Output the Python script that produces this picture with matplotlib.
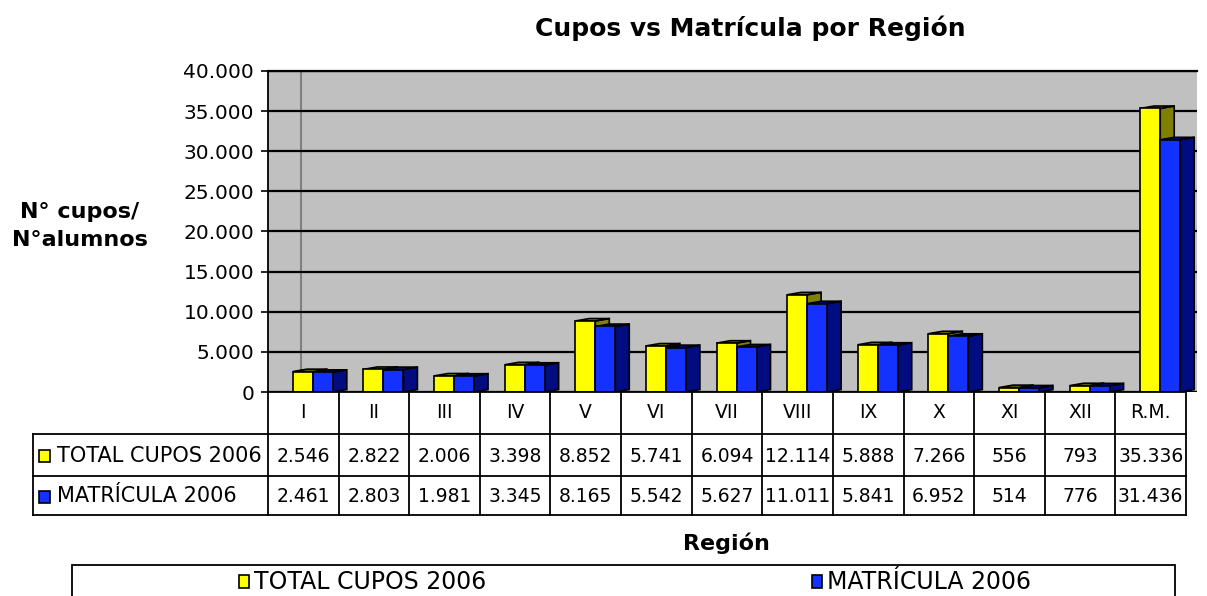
import matplotlib
matplotlib.use('Agg')
import matplotlib.pyplot as plt
from matplotlib.patches import Rectangle

regiones = ['I', 'II', 'III', 'IV', 'V', 'VI', 'VII', 'VIII', 'IX', 'X', 'XI', 'XII', 'R.M.']
cupos = [2546, 2822, 2006, 3398, 8852, 5741, 6094, 12114, 5888, 7266, 556, 793, 35336]
matricula = [2461, 2803, 1981, 3345, 8165, 5542, 5627, 11011, 5841, 6952, 514, 776, 31436]
series = ['TOTAL CUPOS 2006', 'MATRÍCULA 2006']
yticks = [0, 5000, 10000, 15000, 20000, 25000, 30000, 35000, 40000]

front = ['#FFFF00', '#1432FF']
side = ['#808000', '#000C80']

plt.rcParams['font.family'] = ['DejaVu Sans']

W, H = 1207, 596
fig = plt.figure(figsize=(W / 100, H / 100), dpi=100)
fig.patch.set_facecolor('white')

# plot area in pixels
px_left, px_right, px_top, px_bot = 268, 1197, 71, 392
col_w = (1186 - px_left) / len(regiones)
ax = fig.add_axes([px_left / W, 1 - px_bot / H, (px_right - px_left) / W, (px_bot - px_top) / H])
ax.set_facecolor('#C0C0C0')
ax.set_xlim(0, (px_right - px_left) / col_w)
ax.set_ylim(0, 40000)

# 3d-ish bar geometry (category units)
off = 0.352
bw = 0.283
depth = 0.198
dy = 300

def bar3d(x0, v, fc, sc):
    xr = x0 + bw
    ax.fill([xr, xr + depth, xr + depth, xr], [0, dy, v + dy, v], color=sc, ec='black', lw=1.2, zorder=2)
    ax.fill([x0, xr, xr + depth, x0 + depth], [v, v, v + dy, v + dy], color=sc, ec='black', lw=1.2, zorder=2)
    ax.bar(x0, v, width=bw, align='edge', color=fc, edgecolor='black', linewidth=1.2, zorder=3)

for i in range(len(regiones)):
    bar3d(i + off, cupos[i], front[0], side[0])
    bar3d(i + off + bw, matricula[i], front[1], side[1])

ax.set_yticks(yticks)
ax.set_yticklabels([f'{t:,}'.replace(',', '.') for t in yticks], fontsize=14.5)
ax.set_xticks([])
ax.tick_params(axis='y', length=5, width=1.2, pad=5, direction='out')
ax.yaxis.grid(True, color='black', lw=1.6)
ax.set_axisbelow(True)
ax.axvline((301 - px_left) / col_w, color='#808080', lw=1.5, zorder=0.4)
for s in ['right', 'bottom']:
    ax.spines[s].set_visible(False)
ax.spines['left'].set_linewidth(1.3)
ax.spines['top'].set_linewidth(1.6)

# overlay in pixel coordinates for titles, table and legend
lay = fig.add_axes([0, 0, 1, 1])
lay.set_xlim(0, W)
lay.set_ylim(H, 0)
lay.axis('off')

lay.text(750, 28, 'Cupos vs Matrícula por Región', fontsize=18, fontweight='bold', ha='center', va='center')
lay.text(80, 226, 'N° cupos/\nN°alumnos', fontsize=16, fontweight='bold', ha='center', va='center',
         linespacing=1.45, multialignment='center')
lay.text(726, 543, 'Región', fontsize=16, fontweight='bold', ha='center', va='center')

# data table
t_left, t_right = 33, 1186
rows = [392, 434, 476, 515]
lk = dict(color='black', lw=1.3)
lay.plot([px_left, t_right], [rows[0], rows[0]], **lk)
for r in rows[1:]:
    lay.plot([t_left, t_right], [r, r], **lk)
lay.plot([t_left, t_left], [rows[1], rows[3]], **lk)
for i in range(len(regiones) + 1):
    x = px_left + i * col_w
    lay.plot([x, x], [rows[0], rows[3]], **lk)

for i, name in enumerate(regiones):
    xc = px_left + (i + 0.5) * col_w
    lay.text(xc, (rows[0] + rows[1]) / 2, name, fontsize=13.5, ha='center', va='center')
    for j, vals in enumerate([cupos, matricula]):
        lay.text(xc, (rows[j + 1] + rows[j + 2]) / 2 + 1, f'{vals[i]:,}'.replace(',', '.'),
                 fontsize=13.5, ha='center', va='center')

for j, name in enumerate(series):
    yc = (rows[j + 1] + rows[j + 2]) / 2 + 1
    lay.add_patch(Rectangle((39, yc - 6), 11, 12, facecolor=front[j], edgecolor='black', lw=1.2))
    lay.text(57, yc, name, fontsize=15, ha='left', va='center')

# legend box (bottom edge cut by the figure)
lay.add_patch(Rectangle((72, 565), 1175 - 72, 45, facecolor='white', edgecolor='black', lw=1.3, clip_on=False))
for j, (mx, name) in enumerate(zip([239, 812], series)):
    lay.add_patch(Rectangle((mx, 575), 10, 13, facecolor=front[j], edgecolor='black', lw=1.2))
    lay.text(mx + 15, 582, name, fontsize=17, ha='left', va='center')

fig.savefig('out.png', dpi=100)
